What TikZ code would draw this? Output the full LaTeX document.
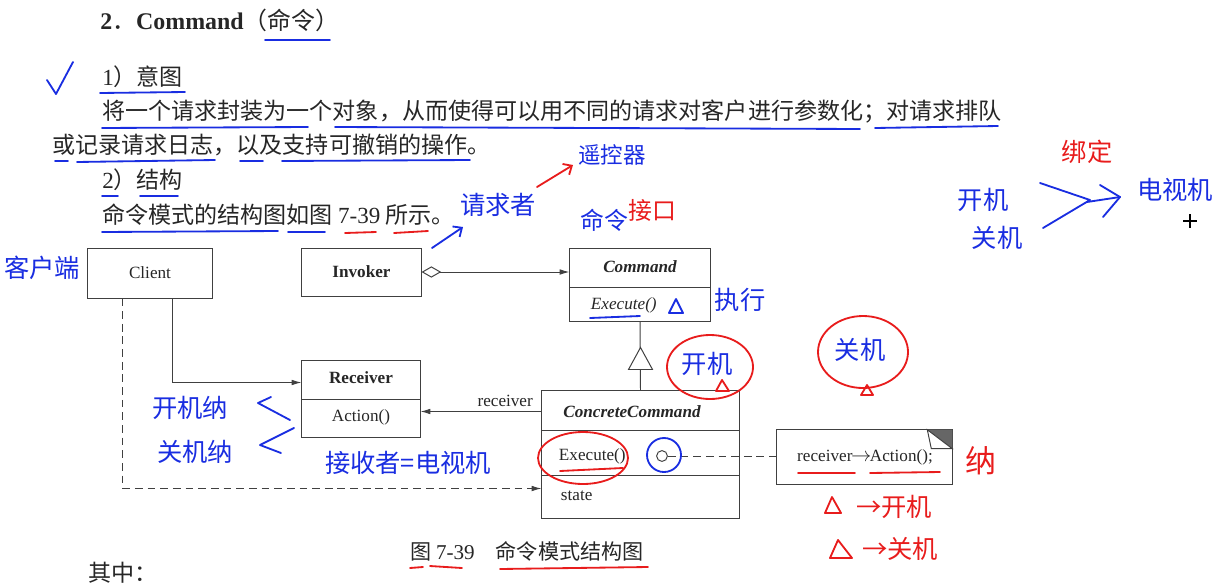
\documentclass[tikz,border=0pt]{standalone}
\usepackage{fontspec}
\setmainfont{Liberation Serif}
\newfontfamily\cjk{Noto Sans CJK SC}
\usetikzlibrary{arrows.meta,calc}
\definecolor{ink}{RGB}{25,45,225}
\definecolor{pen}{RGB}{232,28,28}

\begin{document}
\begin{tikzpicture}[x=0.025cm, y=-0.025cm,
    cls/.style={draw=black!75, line width=0.7pt, inner sep=0pt},
    lbl/.style={text=black!85, font=\fontsize{12.2}{14}\selectfont},
    lblb/.style={text=black!85, font=\fontsize{12.2}{14}\selectfont\bfseries},
    lblbi/.style={text=black!85, font=\fontsize{12.2}{14}\selectfont\bfseries\itshape},
    lbli/.style={text=black!85, font=\fontsize{12.2}{14}\selectfont\itshape},
    body/.style={anchor=west, inner sep=0pt, text=black!85, font=\cjk\fontsize{16.4}{18}\selectfont},
    hand/.style={text=ink, inner sep=0pt, font=\cjk\fontsize{18}{20}\selectfont},
    handred/.style={hand, text=pen},
    uline/.style={draw=ink, line width=1.3pt, line cap=round},
    rline/.style={uline, draw=pen},
    link/.style={draw=black!75, line width=0.7pt},
    dep/.style={link, dash pattern=on 5.5pt off 3.5pt},
    tip/.style={-{Latex[length=7pt,width=4pt]}},
    scrawl/.style={line width=1.3pt, line cap=round, line join=round},
  ]
  \useasboundingbox (0,0) rectangle (1221,586);

  % Page text
  \node[body, font=\cjk\fontsize{17}{20}\selectfont] (title) at (100,20)
    {{\rmfamily\bfseries 2}．{\rmfamily\bfseries Command}（命令）};
  \node[body] (intent) at (102,77) {{\rmfamily 1}）意图};
  \node[body] (line1) at (102,112) {将一个请求封装为一个对象，从而使得可以用不同的请求对客户进行参数化；对请求排队};
  \node[body] (line2) at (52,145) {或记录请求日志，以及支持可撤销的操作。};
  \node[body] (struct) at (102,180) {{\rmfamily 2}）结构};
  \node[body] (see) at (102,215) {命令模式的结构图如图 {\rmfamily 7-39} 所示。};
  \node[body, font=\cjk\fontsize{15}{18}\selectfont] (caption) at (410,551) {图 {\rmfamily 7-39}\quad 命令模式结构图};
  \node[body] (among) at (88,573) {其中：};

  % Classes
  \node[cls, lbl, minimum width=3.1cm, minimum height=1.25cm] (cli) at (150,273) {Client};
  \node[cls, lblb, minimum width=2.975cm, minimum height=1.2cm] (inv) at (361.5,272) {Invoker};
  \node[cls, minimum width=3.5cm, minimum height=1.825cm] (cmd) at (640,284.5) {};
  \draw[link] (cmd.west |- 0,287) -- (cmd.east |- 0,287);
  \node[lblbi] (cmdName) at (640,267) {Command};
  \node[lbli, anchor=west] (cmdExec) at (586,305) {Execute()};

  \node[cls, minimum width=2.95cm, minimum height=1.925cm] (rcv) at (361,398.5) {};
  \draw[link] (rcv.west |- 0,399) -- (rcv.east |- 0,399);
  \node[lblb] (rcvName) at (361,378) {Receiver};
  \node[lbl] (rcvAct) at (361,417) {Action()};

  \node[cls, minimum width=4.925cm, minimum height=3.175cm] (cc) at (640.5,454.5) {};
  \draw[link] (cc.west |- 0,430) -- (cc.east |- 0,430);
  \draw[link] (cc.west |- 0,475) -- (cc.east |- 0,475);
  \node[lblbi] (ccName) at (632,412) {ConcreteCommand};
  \node[lbl, anchor=west] (ccExec) at (554,456) {Execute()};
  \node[lbl, anchor=west] (ccState) at (556,496) {state};

  % Note with folded corner
  \node[minimum width=4.375cm, minimum height=1.35cm, inner sep=0pt] (note) at (864.5,457) {};
  \draw[link] (note.north west) rectangle (note.south east);
  \fill[black!60] ($(note.north east)+(-25,0)$) -- (note.north east) -- ($(note.north east)+(0,19)$) -- cycle;
  \draw[link, fill=white] ($(note.north east)+(-25,0)$) -- ($(note.north east)+(-21,19)$) -- ($(note.north east)+(0,19)$) -- cycle;
  \node[lbl] (noteText) at (865,457) {receiver\kern-1pt{\fontsize{15}{15}\selectfont$\rightarrow$}\kern-1pt Action();};

  % Connectors
  \draw[link, {Diamond[open,length=14pt,width=8pt]}-{Latex[length=7pt,width=4pt]}] (inv.east) -- (inv.east -| cmd.west);
  \coordinate (cliOut) at ($(cli.south west)+(85,0)$);
  \coordinate (rcvIn) at ($(rcv.north west)+(0,23)$);
  \draw[link, tip] (cliOut) |- (rcvIn);
  \coordinate (cliDash) at ($(cli.south west)+(35,0)$);
  \coordinate (ccIn) at ($(cc.south west)+(0,-30)$);
  \draw[dep, tip] (cliDash) |- (ccIn);
  \draw[link] (cc.north) -- (cmd.south);
  \draw[link, fill=white] ($(cc.north)+(0,-43)$) -- ($(cc.north)+(12,-21)$) -- ($(cc.north)+(-12,-21)$) -- cycle;
  \coordinate (ccOut) at ($(cc.north west)+(0,21)$);
  \draw[link, tip] (ccOut) -- (ccOut -| rcv.east) node[pos=0.3, above, lbl] {receiver};
  \node[circle, draw=black!75, line width=0.7pt, minimum size=0.27cm, inner sep=0pt] (dot) at (662,456) {};
  \draw[dep] (dot) -- (dot -| note.west);

  % Underlines
  \draw[uline] (265,40) -- (330,40);
  \draw[uline] (100,93) -- (185,92);
  \draw[uline] (102,128) -- (308,127);
  \draw[uline] (335,127) -- (860,129);
  \draw[uline] (875,128) -- (998,126);
  \draw[uline] (55,161) -- (68,161);
  \draw[uline] (77,162) -- (215,160);
  \draw[uline] (240,161) -- (263,161);
  \draw[uline] (282,161) -- (470,160);
  \draw[uline] (102,196) -- (118,196);
  \draw[uline] (140,196) -- (178,196);
  \draw[uline] (102,232) -- (278,231);
  \draw[uline] (288,232) -- (325,232);
  \draw[rline] (345,233) -- (376,232);
  \draw[rline] (394,233) -- (428,231);
  \draw[uline] (590,318) -- (640,316);
  \draw[rline] (560,471) -- (623,468);
  \draw[rline] (798,473) -- (855,473);
  \draw[rline] (870,473) -- (940,472);
  \draw[rline] (410,568) -- (423,567);
  \draw[rline] (430,566) -- (462,568);
  \draw[rline] (500,569) -- (648,567);

  % Handwritten notes
  \draw[ink, scrawl] (47,80) -- (56,94) -- (73,62);
  \node[hand] (clientNote) at (42,268) {客户端};
  \draw[ink, scrawl, -{Straight Barb[length=5pt,width=9pt]}] (432,248) -- (463,227);
  \node[hand] (invNote) at (498,205) {请求者};
  \draw[pen, scrawl, -{Straight Barb[length=5pt,width=9pt]}] (537,187) -- (573,165);
  \node[hand, font=\cjk\fontsize{16}{18}\selectfont] (remote) at (612,155) {遥控器};
  \node[hand, font=\cjk\fontsize{17}{18}\selectfont] (cmdNote) at (604,220) {命令};
  \node[handred, font=\cjk\fontsize{17}{18}\selectfont] (ifaceNote) at (652,210) {接口};
  \node[hand] (execNote) at (740,300) {执行};
  \draw[ink, scrawl] (669,313) -- (683,313) -- (676,299) -- cycle;

  \draw[pen, line width=1.3pt] (710,367) ellipse [x radius=43, y radius=32];
  \node[hand] (onCmd) at (707,364) {开机};
  \draw[pen, scrawl] (716,391) -- (729,391) -- (722,380) -- cycle;
  \draw[pen, line width=1.3pt] (863,352) ellipse [x radius=45, y radius=36];
  \node[hand] (offCmd) at (860,350) {关机};
  \draw[pen, scrawl] (861,395) -- (873,395) -- (867,385) -- cycle;

  \draw[pen, line width=1.3pt] (583,458) ellipse [x radius=45, y radius=26];
  \draw[ink, line width=1.3pt] (664,455) circle [radius=17];

  \node[hand] (onAct) at (190,408) {开机纳};
  \node[hand] (offAct) at (195,452) {关机纳};
  \draw[ink, scrawl] (290,420) -- (258,403) -- (271,397);
  \draw[ink, scrawl] (294,428) -- (260,445) -- (281,453);
  \node[hand] (tvNote) at (408,463) {接收者=电视机};

  \node[handred, font=\cjk\fontsize{22}{24}\selectfont] (noteMark) at (981,461) {纳};
  \draw[pen, scrawl] (825,513) -- (841,513) -- (832,497) -- cycle;
  \node[handred, anchor=west] (onStep) at (856,507) {→开机};
  \draw[pen, scrawl] (830,558) -- (852,558) -- (838,540) -- cycle;
  \node[handred, anchor=west] (offStep) at (862,549) {→关机};

  % Binding sketch
  \node[hand] (onTop) at (983,200) {开机};
  \node[hand] (offTop) at (997,238) {关机};
  \draw[ink, scrawl] (1040,183) -- (1090,200) -- (1043,228);
  \draw[ink, scrawl] (1087,202) -- (1120,197);
  \draw[ink, scrawl] (1100,185) -- (1120,197) -- (1103,217);
  \node[hand] (tvTop) at (1175,190) {电视机};
  \node[handred] (bind) at (1087,152) {绑定};
  \draw[black, line width=0.8pt] (1183,221) -- (1197,221) (1190,214) -- (1190,228);
\end{tikzpicture}
\end{document}
